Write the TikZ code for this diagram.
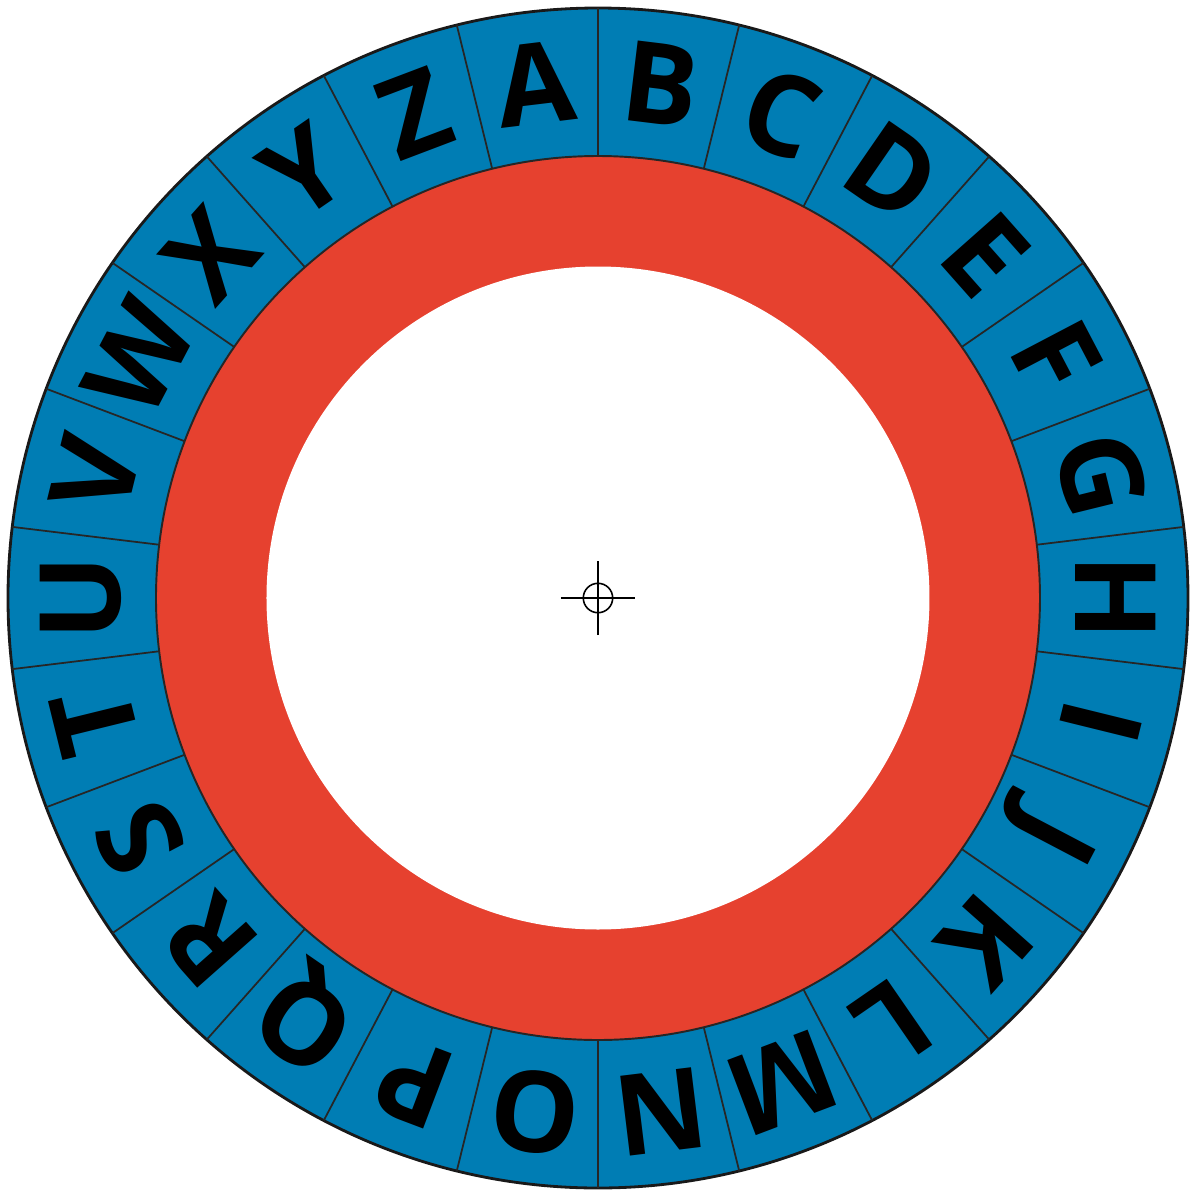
\documentclass[tikz,border=0pt]{standalone}
\usepackage{fontspec}
\setmainfont{Open Sans}
\definecolor{wheelblue}{HTML}{007DB4}
\definecolor{wheelred}{HTML}{E6412F}

\begin{document}
\begin{tikzpicture}[x=0.01cm, y=0.01cm,
  letter/.style={font=\fontsize{32}{32}\bfseries\selectfont, inner sep=0pt,
                 text height=22.8pt, text depth=0pt}]
\useasboundingbox (-598,-598) rectangle (594,598);
% ---- the rings: outer letters, red band, blank hub -------------------------
\def\rout{590}\def\rmid{442}\def\rin{331.5}\def\rlet{518}
\coordinate (hub) at (0,0);
\fill[wheelblue] (hub) circle (\rout);
\fill[wheelred] (hub) circle (\rmid);
\fill[white] (hub) circle (\rin);
\draw[black!90, line width=0.8pt] (hub) circle (\rout);
\draw[black!85, line width=0.55pt] (hub) circle (\rmid);
\foreach \k in {0,...,25}
  \draw[black!85, line width=0.5pt] (90-\k*360/26:\rmid) -- (90-\k*360/26:\rout);

% ---- letters, clockwise from A -------------------------------------------
\foreach \L [count=\i from 0, evaluate=\i as \a using 90+180/26-\i*360/26]
    in {A,B,C,D,E,F,G,H,I,J,K,L,M,N,O,P,Q,R,S,T,U,V,W,X,Y,Z}
  \node[letter, rotate=\a-90] (l\L) at (\a:\rlet) {\L};

% ---- centre mark ---------------------------------------------------------
\draw[line width=0.45pt] (hub) circle (14.7);
\draw[line width=0.45pt] (-37,0) -- (37,0) (0,-37) -- (0,37);
\end{tikzpicture}
\end{document}
